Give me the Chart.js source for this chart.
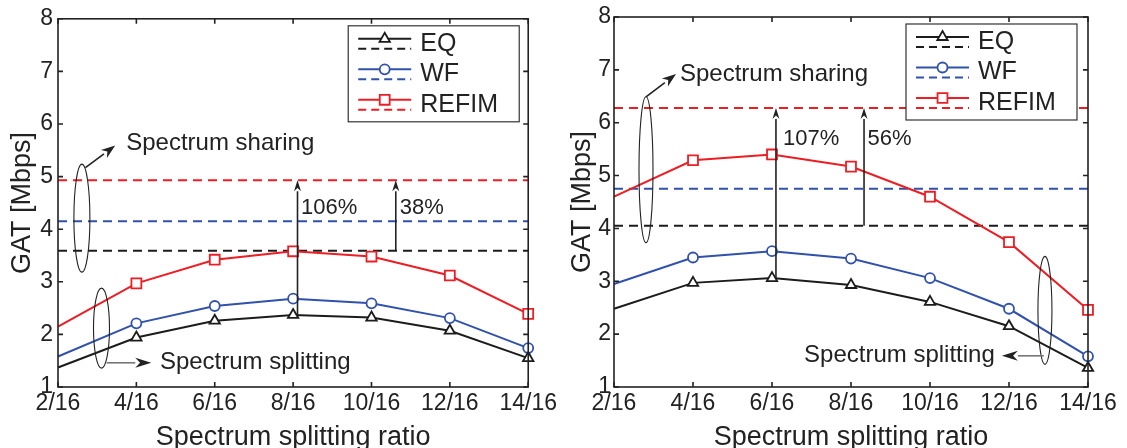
<!DOCTYPE html>
<html>
<head>
<meta charset="utf-8">
<script src="https://cdn.jsdelivr.net/npm/chart.js@4.4.1/dist/chart.umd.min.js"></script>
<style>
  html, body { margin: 0; padding: 0; background: #fff; }
  #wrap { position: relative; width: 1127px; height: 448px; overflow: hidden; }
  .pane { position: absolute; top: 0; height: 448px; }
  #paneA { left: 0; width: 560px; }
  #paneB { left: 560px; width: 567px; }
</style>
</head>
<body>
<div id="wrap">
  <div class="pane" id="paneA"><canvas id="chartA" width="560" height="448"></canvas></div>
  <div class="pane" id="paneB"><canvas id="chartB" width="567" height="448"></canvas></div>
</div>
<script>
// data
const ratioLabels = ['2/16', '4/16', '6/16', '8/16', '10/16', '12/16', '14/16'];
const seriesNames = ['EQ', 'WF', 'REFIM'];

// left panel: spectrum splitting curves + spectrum sharing levels (EQ, WF, REFIM)
const eqA    = [1.37, 1.94, 2.26, 2.37, 2.32, 2.07, 1.55];
const wfA    = [1.58, 2.21, 2.54, 2.68, 2.59, 2.31, 1.74];
const refimA = [2.15, 2.97, 3.42, 3.58, 3.48, 3.12, 2.39];
const sharingA = [3.59, 4.15, 4.93];

// right panel
const eqB    = [2.48, 2.97, 3.06, 2.93, 2.61, 2.15, 1.36];
const wfB    = [2.95, 3.45, 3.57, 3.43, 3.06, 2.48, 1.58];
const refimB = [4.60, 5.29, 5.40, 5.17, 4.60, 3.74, 2.46];
const sharingB = [4.05, 4.75, 6.28];

const seriesColors = ['#1c1c1c', '#3152ac', '#ee1d23'];
const seriesMarkers = ['triangle', 'circle', 'rect'];
const markerRadius = [6, 5, 7];
const FONT = "'Liberation Sans', Arial, Helvetica, sans-serif";
const INK = '#222';

function makeDatasets(split, sharing) {
  const sets = [];
  split.forEach((vals, i) => {
    sets.push({
      label: seriesNames[i],
      data: vals,
      borderColor: seriesColors[i],
      borderWidth: 2,
      pointStyle: seriesMarkers[i],
      // no marker on the first point, like the original
      pointRadius: vals.map((v, k) => k === 0 ? 0 : markerRadius[i]),
      pointBorderWidth: 1.8,
      pointBorderColor: seriesColors[i],
      pointBackgroundColor: '#fff',
      tension: 0,
      order: 1
    });
  });
  sharing.forEach((v, i) => {
    sets.push({
      label: seriesNames[i] + ' (sharing)',
      data: ratioLabels.map(() => v),
      borderColor: seriesColors[i],
      borderWidth: 2,
      borderDash: [9, 6],
      pointRadius: 0,
      order: 2
    });
  });
  return sets;
}

function drawArrow(ctx, x1, y1, x2, y2, len, wid, lineColor) {
  const ang = Math.atan2(y2 - y1, x2 - x1);
  const bx = x2 - Math.cos(ang) * len, by = y2 - Math.sin(ang) * len;
  ctx.strokeStyle = lineColor;
  ctx.lineWidth = 1.6;
  ctx.setLineDash([]);
  ctx.beginPath();
  ctx.moveTo(x1, y1);
  ctx.lineTo(bx, by);
  ctx.stroke();
  ctx.fillStyle = INK;
  ctx.beginPath();
  ctx.moveTo(x2, y2);
  ctx.lineTo(bx + Math.sin(ang) * wid / 2, by - Math.cos(ang) * wid / 2);
  ctx.lineTo(x2 - Math.cos(ang) * len * 0.7, y2 - Math.sin(ang) * len * 0.7);
  ctx.lineTo(bx - Math.sin(ang) * wid / 2, by + Math.cos(ang) * wid / 2);
  ctx.closePath();
  ctx.fill();
}

// frame, inward ticks, legend and the annotations
const figureDecor = {
  id: 'figureDecor',
  afterDraw(chart, args, opts) {
    const { ctx, chartArea: a, scales: { x, y } } = chart;
    ctx.save();
    ctx.strokeStyle = INK;
    ctx.lineWidth = 1.6;
    ctx.setLineDash([]);
    ctx.strokeRect(a.left, a.top, a.right - a.left, a.bottom - a.top);
    ctx.beginPath();
    y.ticks.forEach(t => {
      const py = y.getPixelForValue(t.value);
      ctx.moveTo(a.left, py); ctx.lineTo(a.left + 5, py);
      ctx.moveTo(a.right, py); ctx.lineTo(a.right - 5, py);
    });
    ratioLabels.forEach((l, i) => {
      const px = x.getPixelForValue(i);
      ctx.moveTo(px, a.bottom); ctx.lineTo(px, a.bottom - 5);
      ctx.moveTo(px, a.top); ctx.lineTo(px, a.top + 5);
    });
    ctx.stroke();

    // ellipses
    ctx.lineWidth = 1.1;
    opts.ellipses.forEach(e => {
      ctx.beginPath();
      ctx.ellipse(x.getPixelForValue(e.x), y.getPixelForValue(e.y), e.rx, e.ry, 0, 0, Math.PI * 2);
      ctx.stroke();
    });

    // pointer arrows
    opts.pointers.forEach(p => {
      drawArrow(ctx, x.getPixelForValue(p.x1), y.getPixelForValue(p.y1),
        x.getPixelForValue(p.x2), y.getPixelForValue(p.y2), p.len, p.wid, p.color);
    });
    // gain arrows
    opts.gains.forEach(g => {
      const px = x.getPixelForValue(g.x);
      drawArrow(ctx, px, y.getPixelForValue(g.from), px, y.getPixelForValue(g.to), 11, 7, INK);
    });

    // texts
    ctx.fillStyle = INK;
    ctx.textBaseline = 'middle';
    opts.texts.forEach(t => {
      ctx.font = t.size + 'px ' + FONT;
      ctx.textAlign = t.align || 'left';
      ctx.fillText(t.text, x.getPixelForValue(t.x), y.getPixelForValue(t.y));
    });

    // legend
    const L = opts.legend;
    const bx = a.right - L.inset - L.w, by = a.top + 7;
    ctx.fillStyle = '#fff';
    ctx.fillRect(bx, by, L.w, L.h);
    ctx.strokeStyle = '#333';
    ctx.lineWidth = 1.2;
    ctx.strokeRect(bx, by, L.w, L.h);
    seriesNames.forEach((name, i) => {
      const rowY = by + 13 + i * 30.5;
      const x0 = bx + 10, x1 = bx + 63;
      ctx.strokeStyle = seriesColors[i];
      ctx.lineWidth = 2;
      ctx.setLineDash([]);
      ctx.beginPath(); ctx.moveTo(x0, rowY); ctx.lineTo(x1, rowY); ctx.stroke();
      ctx.setLineDash([8, 5]);
      ctx.beginPath(); ctx.moveTo(x0, rowY + 10); ctx.lineTo(x1, rowY + 10); ctx.stroke();
      ctx.setLineDash([]);
      ctx.fillStyle = '#fff';
      ctx.lineWidth = 1.8;
      Chart.helpers.drawPoint(ctx, { pointStyle: seriesMarkers[i], radius: markerRadius[i], rotation: 0, borderWidth: 1.8 }, (x0 + x1) / 2, rowY);
      ctx.fillStyle = INK;
      ctx.font = '25px ' + FONT;
      ctx.textAlign = 'left';
      ctx.fillText(name, bx + 72, rowY + 5);
    });
    ctx.restore();
  }
};

function makeChart(id, split, sharing, decor, axisW, rightPad, tickPad) {
  return new Chart(document.getElementById(id), {
    type: 'line',
    data: { labels: ratioLabels, datasets: makeDatasets(split, sharing) },
    options: {
      responsive: false,
      animation: false,
      layout: { padding: { top: 17, right: rightPad, bottom: 0, left: 0 } },
      plugins: { legend: { display: false }, tooltip: { enabled: false }, figureDecor: decor },
      scales: {
        x: {
          offset: false,
          grid: { display: false, drawTicks: false },
          border: { display: false },
          ticks: { color: INK, font: { family: FONT, size: 23 }, padding: 3, maxRotation: 0, autoSkip: false },
          title: { display: true, text: 'Spectrum splitting ratio', color: INK,
                   font: { family: FONT, size: 27, lineHeight: 0.8 }, padding: { top: 0, bottom: 0 } },
          afterFit: s => { s.height = 61; }
        },
        y: {
          min: 1, max: 8,
          grid: { display: false, drawTicks: false },
          border: { display: false },
          ticks: { stepSize: 1, color: INK, font: { family: FONT, size: 23 }, padding: tickPad },
          title: { display: true, text: 'GAT [Mbps]', color: INK,
                   font: { family: FONT, size: 27 }, padding: { top: 6, bottom: 0 } },
          afterFit: s => { s.width = axisW; }
        }
      }
    },
    plugins: [figureDecor]
  });
}

makeChart('chartA', [eqA, wfA, refimA], sharingA, {
  legend: { inset: 9, w: 171, h: 96 },
  ellipses: [
    { x: 0.305, y: 4.21, rx: 8, ry: 54 },
    { x: 0.555, y: 2.12, rx: 8, ry: 40 }
  ],
  pointers: [
    { x1: 0.35, y1: 5.17, x2: 0.73, y2: 5.59, len: 14, wid: 10, color: INK },
    { x1: 0.62, y1: 1.46, x2: 1.19, y2: 1.46, len: 16, wid: 10, color: '#777' }
  ],
  gains: [
    { x: 3.056, from: eqA[3], to: sharingA[2] },
    { x: 4.31, from: sharingA[0], to: sharingA[2] }
  ],
  texts: [
    { text: 'Spectrum sharing', x: 0.87, y: 5.64, size: 24 },
    { text: 'Spectrum splitting', x: 1.30, y: 1.46, size: 24 },
    { text: '106%', x: 3.10, y: 4.41, size: 22 },
    { text: '38%', x: 4.36, y: 4.41, size: 22 }
  ]
}, 58, 27, 5);

makeChart('chartB', [eqB, wfB, refimB], sharingB, {
  legend: { inset: 11, w: 171, h: 96 },
  ellipses: [
    { x: 0.405, y: 5.11, rx: 7, ry: 73 },
    { x: 5.455, y: 2.45, rx: 7, ry: 54 }
  ],
  pointers: [
    { x1: 0.405, y1: 6.49, x2: 0.785, y2: 6.92, len: 14, wid: 10, color: INK },
    { x1: 5.44, y1: 1.59, x2: 4.91, y2: 1.59, len: 16, wid: 10, color: '#777' }
  ],
  gains: [
    { x: 2.05, from: eqB[2], to: sharingB[2] },
    { x: 3.165, from: sharingB[0], to: sharingB[2] }
  ],
  texts: [
    { text: 'Spectrum sharing', x: 0.835, y: 6.92, size: 24 },
    { text: 'Spectrum splitting', x: 4.82, y: 1.59, size: 24, align: 'right' },
    { text: '107%', x: 2.14, y: 5.69, size: 22 },
    { text: '56%', x: 3.21, y: 5.69, size: 22 }
  ]
}, 54, 39, 3);
</script>
</body>
</html>
